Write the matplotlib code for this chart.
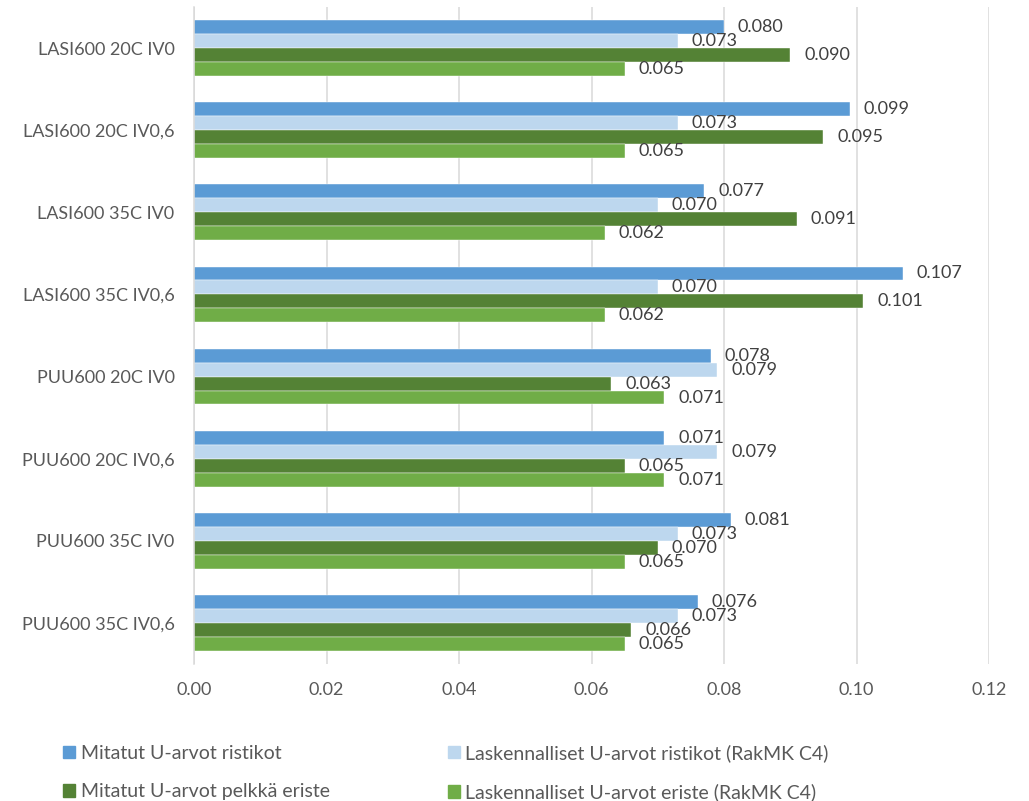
import matplotlib
matplotlib.use("Agg")
import matplotlib.pyplot as plt
from matplotlib.patches import Patch
import numpy as np

plt.rcParams['font.family'] = ['Lato', 'DejaVu Sans']

# data
categories = ['LASI600 20C IV0', 'LASI600 20C IV0,6', 'LASI600 35C IV0', 'LASI600 35C IV0,6',
              'PUU600 20C IV0', 'PUU600 20C IV0,6', 'PUU600 35C IV0', 'PUU600 35C IV0,6']
mitatut_ristikot = [0.080, 0.099, 0.077, 0.107, 0.078, 0.071, 0.081, 0.076]
lask_ristikot = [0.073, 0.073, 0.070, 0.070, 0.079, 0.079, 0.073, 0.073]
mitatut_eriste = [0.090, 0.095, 0.091, 0.101, 0.063, 0.065, 0.070, 0.066]
lask_eriste = [0.065, 0.065, 0.062, 0.062, 0.071, 0.071, 0.065, 0.065]

series = [
    ('Mitatut U-arvot ristikot', mitatut_ristikot, '#5B9BD5'),
    ('Laskennalliset U-arvot ristikot (RakMK C4)', lask_ristikot, '#BDD7EE'),
    ('Mitatut U-arvot pelkkä eriste', mitatut_eriste, '#548235'),
    ('Laskennalliset U-arvot eriste (RakMK C4)', lask_eriste, '#70AD47'),
]

txt = '#595959'
fig = plt.figure(figsize=(10.29, 8.01), dpi=100)
ax = fig.add_axes([194/1029, 1-664/801, (989-194)/1029, (664-7)/801])

y = np.arange(len(categories))
h = 0.17
handles = {}
for i, (name, vals, col) in enumerate(series):
    bars = ax.barh(y + (i - 1.5) * h, vals, height=h, color=col, edgecolor='white', linewidth=0.3)
    ax.bar_label(bars, labels=[f'{v:.3f}' for v in vals], padding=10, fontsize=13, color='#404040')
    handles[name] = Patch(color=col, label=name)

ax.set_xlim(0, 0.12)
ax.set_ylim(len(categories) - 0.5, -0.5)
ax.set_xticks(np.arange(0, 0.121, 0.02))
ax.set_xticklabels([f'{t:.2f}' for t in np.arange(0, 0.121, 0.02)])
ax.set_yticks(y)
ax.set_yticklabels(categories)
ax.tick_params(axis='both', length=0, labelsize=13, colors=txt)
ax.tick_params(axis='x', pad=13)
ax.tick_params(axis='y', pad=14)
ax.grid(axis='x', color='#D9D9D9', linewidth=1.1)
ax.set_axisbelow(True)
for s in ['top', 'right', 'bottom']:
    ax.spines[s].set_visible(False)
ax.spines['left'].set_color('#D9D9D9')
ax.spines['left'].set_linewidth(1.1)

order = ['Mitatut U-arvot ristikot', 'Mitatut U-arvot pelkkä eriste',
         'Laskennalliset U-arvot ristikot (RakMK C4)', 'Laskennalliset U-arvot eriste (RakMK C4)']
leg = fig.legend([handles[k] for k in order], order, ncol=2, loc='upper left',
                 bbox_to_anchor=(63/1029, 1-744/801), frameon=False, fontsize=14,
                 handlelength=0.62, handleheight=0.62, handletextpad=0.3,
                 columnspacing=6.05, labelspacing=1.1, borderpad=0, borderaxespad=0)
for t in leg.get_texts():
    t.set_color(txt)

fig.savefig('out.png', dpi=100)
